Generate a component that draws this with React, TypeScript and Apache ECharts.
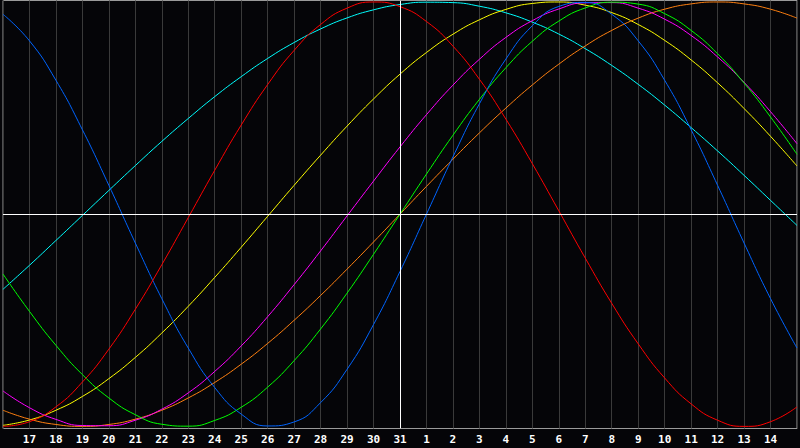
import React, { useEffect, useRef } from "react";
import * as echarts from "echarts";

// Day labels (k = 0..30), today = "31"
const days: string[] = [
  "16", "17", "18", "19", "20", "21", "22", "23", "24", "25", "26", "27", "28", "29", "30", "31",
  "1", "2", "3", "4", "5", "6", "7", "8", "9", "10", "11", "12", "13", "14", "15",
];
const today = "31";

// Cycle values (-1 .. 1), one per day
const redValues: number[] = [
  -1.0, -0.978, -0.908, -0.791, -0.636, -0.448, -0.238, -0.016, 0.207, 0.42, 0.611, 0.772, 0.894, 0.971, 1.0,
  0.978, 0.908, 0.792, 0.636, 0.448, 0.238, 0.016, -0.207, -0.42, -0.611, -0.772, -0.894, -0.971, -1.0, -0.978, -0.908,
];
const blueValues: number[] = [
  0.942, 0.817, 0.631, 0.398, 0.136, -0.136, -0.398, -0.631, -0.817, -0.942, -0.998, -0.979, -0.888, -0.731, -0.52,
  -0.27, 0.0, 0.27, 0.52, 0.731, 0.888, 0.979, 0.998, 0.942, 0.817, 0.631, 0.398, 0.136, -0.136, -0.398, -0.631,
];
const greenValues: number[] = [
  -0.282, -0.458, -0.618, -0.756, -0.866, -0.945, -0.99, -0.999, -0.972, -0.91, -0.815, -0.69, -0.541, -0.372, -0.189,
  0.0, 0.189, 0.372, 0.541, 0.69, 0.815, 0.91, 0.972, 0.999, 0.99, 0.945, 0.866, 0.756, 0.618, 0.458, 0.282,
];
const orangeValues: number[] = [
  -0.924, -0.966, -0.991, -1.0, -0.991, -0.966, -0.924, -0.866, -0.793, -0.707, -0.609, -0.5, -0.383, -0.259, -0.131,
  0.0, 0.131, 0.259, 0.383, 0.5, 0.609, 0.707, 0.793, 0.866, 0.924, 0.966, 0.991, 1.0, 0.991, 0.966, 0.924,
];
const magentaValues: number[] = [
  -0.833, -0.912, -0.967, -0.996, -0.997, -0.971, -0.919, -0.842, -0.741, -0.621, -0.483, -0.332, -0.173, -0.008, 0.156,
  0.317, 0.469, 0.608, 0.73, 0.833, 0.912, 0.967, 0.996, 0.997, 0.971, 0.919, 0.842, 0.741, 0.621, 0.483, 0.332,
];
const yellowValues: number[] = [
  -0.995, -0.97, -0.924, -0.859, -0.775, -0.675, -0.56, -0.434, -0.298, -0.156, -0.01, 0.136, 0.278, 0.415, 0.543,
  0.66, 0.762, 0.848, 0.916, 0.965, 0.993, 1.0, 0.985, 0.95, 0.894, 0.819, 0.727, 0.619, 0.498, 0.367, 0.227,
];
const cyanValues: number[] = [
  -0.354, -0.241, -0.124, -0.006, 0.112, 0.229, 0.343, 0.451, 0.554, 0.648, 0.734, 0.809, 0.873, 0.925, 0.963,
  0.988, 0.999, 0.997, 0.98, 0.949, 0.905, 0.849, 0.78, 0.701, 0.612, 0.514, 0.408, 0.298, 0.183, 0.065, -0.053,
];

const seriesDefs: { name: string; color: string; data: number[] }[] = [
  { name: "Spiritual", color: "#00ffff", data: cyanValues },
  { name: "Aesthetic", color: "#ffff00", data: yellowValues },
  { name: "Awareness", color: "#ff8010", data: orangeValues },
  { name: "Intuitive", color: "#ff00ff", data: magentaValues },
  { name: "Intellectual", color: "#00ff00", data: greenValues },
  { name: "Physical", color: "#0064ff", data: blueValues },
  { name: "Emotional", color: "#ff0000", data: redValues },
];

export default function App() {
  const ref = useRef<HTMLDivElement>(null);
  useEffect(() => {
    if (!ref.current) return;
    const chart = echarts.init(ref.current, undefined, { renderer: "svg" });
    const series: any[] = seriesDefs.map((s) => ({
      name: s.name,
      type: "line",
      data: s.data,
      smooth: true,
      showSymbol: false,
      symbol: "none",
      lineStyle: { color: s.color, width: 1 },
      itemStyle: { color: s.color },
      z: 3,
    }));
    series.push({
      name: "ref",
      type: "line",
      data: [],
      showSymbol: false,
      z: 4,
      markLine: {
        silent: true,
        symbol: "none",
        animation: false,
        label: { show: false },
        lineStyle: { color: "#ffffff", width: 1, type: "solid" },
        data: [{ xAxis: today }, { yAxis: 0 }],
      },
    });
    chart.setOption({
      animation: false,
      backgroundColor: "#050508",
      grid: {
        show: true,
        left: 0.5,
        top: 0.5,
        right: 0.5,
        bottom: 19.5,
        borderColor: "#9a9a9a",
        borderWidth: 1,
        backgroundColor: "transparent",
      },
      xAxis: {
        type: "category",
        data: days,
        boundaryGap: false,
        axisLine: { show: false },
        axisTick: { show: false },
        splitLine: { show: true, interval: 0, lineStyle: { color: "#3a3a3a", width: 1 } },
        axisLabel: {
          interval: 0,
          margin: 5,
          color: "#ffffff",
          fontFamily: "DejaVu Sans Mono",
          fontWeight: "bold",
          fontSize: 11,
          formatter: (v: string, i: number) => (i === 0 || i === days.length - 1 ? "" : v),
        },
      },
      yAxis: {
        type: "value",
        min: -1.01,
        max: 1.007,
        show: false,
        splitLine: { show: false },
      },
      series,
    });
    return () => chart.dispose();
  }, []);
  return (
    <div
      ref={ref}
      style={{ position: "fixed", left: 0, top: 0, width: 800, height: 448, background: "#050508" }}
    />
  );
}
